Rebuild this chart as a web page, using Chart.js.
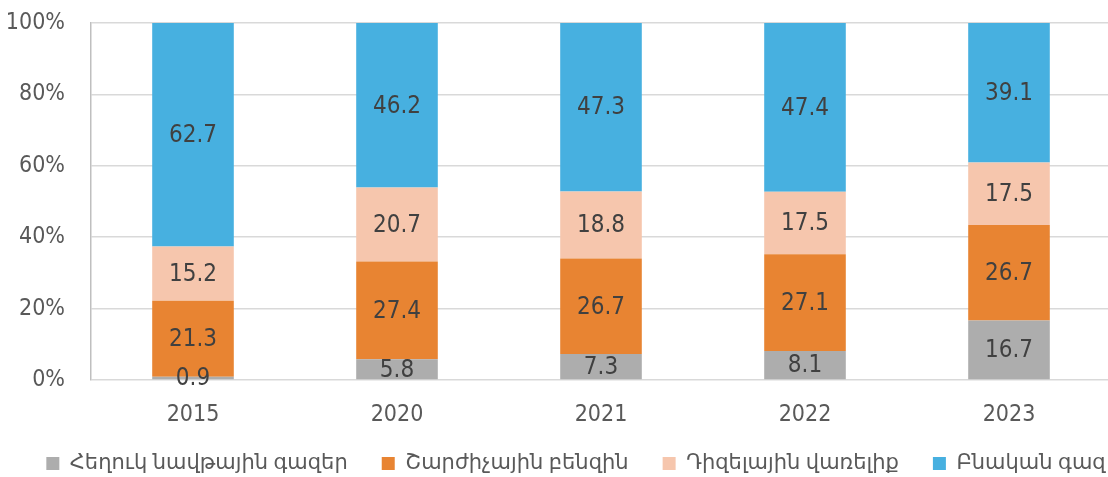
<!DOCTYPE html>
<html>
<head>
<meta charset="utf-8">
<script src="https://cdn.jsdelivr.net/npm/chart.js@4"></script>
<style>
  html, body { margin: 0; padding: 0; background: #fff; overflow: hidden; }
  #wrap { width: 1108px; height: 477px; overflow: hidden; }
  canvas { display: block; }
</style>
</head>
<body>
<div id="wrap"><canvas id="c" width="1152" height="477"></canvas></div>
<script>
// Fuel structure by year, percent shares
const years = ['2015', '2020', '2021', '2022', '2023'];
const lpg = [0.9, 5.8, 7.3, 8.1, 16.7];          // Հեղուկ նավթային գազեր
const petrol = [21.3, 27.4, 26.7, 27.1, 26.7];   // Շարժիչային բենզին
const diesel = [15.2, 20.7, 18.8, 17.5, 17.5];   // Դիզելային վառելիք
const natGas = [62.7, 46.2, 47.3, 47.4, 39.1];   // Բնական գազ
const yTicks = [0, 20, 40, 60, 80, 100];

const NUM_FONT = '"Liberation Sans Narrow", "DejaVu Sans Condensed", Roboto, sans-serif';
const TEXT_FONT = '"Noto Sans", "DejaVu Sans", sans-serif';
const LEGEND_LIFT = 12;

// Writes each segment's value in the middle of its bar piece
const segmentLabels = {
  id: 'segmentLabels',
  afterDatasetsDraw(chart) {
    const ctx = chart.ctx;
    ctx.save();
    ctx.font = '24px ' + NUM_FONT;
    ctx.fillStyle = '#404040';
    ctx.textAlign = 'center';
    ctx.textBaseline = 'middle';
    chart.data.datasets.forEach((ds, i) => {
      const meta = chart.getDatasetMeta(i);
      meta.data.forEach((bar, j) => {
        const p = bar.getProps(['x', 'y', 'base'], true);
        const top = Math.max(p.y, chart.chartArea.top);
        ctx.fillText(ds.data[j].toFixed(1), p.x, (top + p.base) / 2 + 1);
      });
    });
    ctx.restore();
  }
};

// Pulls the legend row a little closer to the category labels
const legendLift = {
  id: 'legendLift',
  afterLayout(chart) {
    const lg = chart.legend;
    if (lg) { lg.top -= LEGEND_LIFT; lg.bottom -= LEGEND_LIFT; }
  }
};

new Chart(document.getElementById('c'), {
  type: 'bar',
  data: {
    labels: years,
    datasets: [
      { label: 'Հեղուկ նավթային գազեր', data: lpg, backgroundColor: '#adadad' },
      { label: 'Շարժիչային բենզին', data: petrol, backgroundColor: '#e88432' },
      { label: 'Դիզելային վառելիք', data: diesel, backgroundColor: '#f6c6ad' },
      { label: 'Բնական գազ', data: natGas, backgroundColor: '#47b0e0' }
    ]
  },
  options: {
    responsive: false,
    animation: false,
    layout: { padding: { left: 0, right: 0, top: 23, bottom: -19 } },
    datasets: {
      bar: { barPercentage: 0.4, categoryPercentage: 1.0, borderWidth: 0 }
    },
    scales: {
      x: {
        stacked: true,
        grid: { display: false },
        border: { display: false },
        afterFit(scale) { scale.height = 51; },
        ticks: { color: '#595959', font: { family: NUM_FONT, size: 23 }, padding: 13 }
      },
      y: {
        stacked: true,
        min: 0,
        max: 100,
        afterBuildTicks(scale) { scale.ticks = yTicks.map(v => ({ value: v })); },
        afterFit(scale) { scale.width = 91; scale.paddingTop = 0; scale.paddingBottom = 0; },
        grid: { color: '#d9d9d9', lineWidth: 1.5, drawTicks: false },
        border: { display: true, color: '#bfbfbf', width: 1.5 },
        ticks: {
          color: '#595959',
          font: { family: NUM_FONT, size: 23 },
          padding: 26,
          callback: v => v + '%'
        }
      },
      // empty right-hand margin axis so the plot ends where the gridlines do
      yMargin: {
        position: 'right',
        display: true,
        afterFit(scale) { scale.width = 41; scale.paddingTop = 0; scale.paddingBottom = 0; },
        grid: { display: false },
        border: { display: false },
        ticks: { display: false }
      }
    },
    plugins: {
      tooltip: { enabled: false },
      legend: {
        position: 'bottom',
        labels: {
          color: '#595959',
          font: { family: TEXT_FONT, size: 21 },
          boxWidth: 13,
          boxHeight: 13,
          padding: 34
        }
      }
    }
  },
  plugins: [segmentLabels, legendLift]
});
</script>
</body>
</html>
